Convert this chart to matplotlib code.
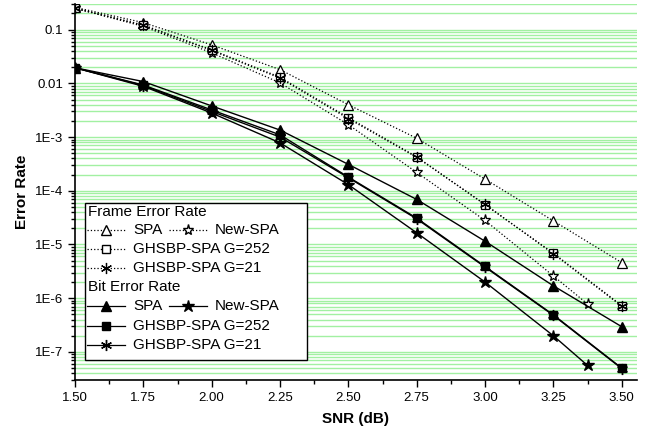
import matplotlib
matplotlib.use('Agg')
import matplotlib.pyplot as plt
from matplotlib.lines import Line2D
from matplotlib.patches import Rectangle
from matplotlib.ticker import FixedLocator, LogLocator, FuncFormatter, NullFormatter
import numpy as np

plt.rcParams['font.family'] = ['Liberation Sans', 'DejaVu Sans']

snr = [1.5, 1.75, 2.0, 2.25, 2.5, 2.75, 3.0, 3.25, 3.5]
snr_new = [1.5, 1.75, 2.0, 2.25, 2.5, 2.75, 3.0, 3.25, 3.375]

# frame error rate
fer_spa = [0.26, 0.135, 0.052, 0.018, 4.0e-3, 9.5e-4, 1.65e-4, 2.75e-5, 4.6e-6]
fer_new = [0.25, 0.115, 0.037, 0.0102, 1.7e-3, 2.2e-4, 2.8e-5, 2.6e-6, 7.8e-7]
fer_g252 = [0.25, 0.122, 0.042, 0.013, 2.3e-3, 4.3e-4, 5.5e-5, 6.9e-6, 7.3e-7]
fer_g21 = [0.25, 0.120, 0.041, 0.0125, 2.2e-3, 4.2e-4, 5.6e-5, 6.7e-6, 7.1e-7]

# bit error rate
ber_spa = [0.0195, 0.0108, 0.0038, 1.35e-3, 3.1e-4, 6.9e-5, 1.15e-5, 1.7e-6, 2.95e-7]
ber_new = [0.0195, 0.0088, 0.0028, 7.8e-4, 1.3e-4, 1.65e-5, 2.0e-6, 2.0e-7, 5.6e-8]
ber_g252 = [0.0195, 0.0093, 0.0032, 1.1e-3, 1.8e-4, 3.1e-5, 3.9e-6, 4.9e-7, 5.0e-8]
ber_g21 = [0.0195, 0.0091, 0.0030, 1.0e-3, 1.75e-4, 3.0e-5, 3.8e-6, 4.8e-7, 4.9e-8]

ytick_vals = [1e-7, 1e-6, 1e-5, 1e-4, 1e-3, 1e-2, 1e-1]
ytick_labels = ['1E-7', '1E-6', '1E-5', '1E-4', '1E-3', '0.01', '0.1']
xtick_vals = [1.5, 1.75, 2.0, 2.25, 2.5, 2.75, 3.0, 3.25, 3.5]

ast = (6, 2, 0)

fig = plt.figure(figsize=(6.54, 4.36), dpi=100)
ax = fig.add_axes([75 / 654, 1 - 380 / 436, 562 / 654, 376 / 436])

dot = dict(color='black', ls=':', lw=0.9, mec='black', ms=7, mew=0.9)
ax.plot(snr, fer_spa, marker='^', mfc='white', **dot)
ax.plot(snr_new, fer_new, marker='*', mfc='white', **dict(dot, ms=8))
ax.plot(snr, fer_g252, marker='s', mfc='white', **dict(dot, ms=6))
ax.plot(snr, fer_g21, marker=ast, **dict(dot, ms=8))

sol = dict(color='black', ls='-', lw=1.0, mec='black', mfc='black', ms=7)
ax.plot(snr, ber_spa, marker='^', **sol)
ax.plot(snr_new, ber_new, marker='*', **dict(sol, ms=9))
ax.plot(snr, ber_g252, marker='s', **dict(sol, ms=6))
ax.plot(snr, ber_g21, marker=ast, **dict(sol, ms=8))

ax.set_yscale('log')
ax.set_xlim(1.5, 3.556)
ax.set_ylim(3e-8, 0.3)

ax.xaxis.set_major_locator(FixedLocator(xtick_vals))
ax.xaxis.set_minor_locator(FixedLocator(np.arange(1.625, 3.55, 0.25)))
ax.set_xticklabels(['%.2f' % v for v in xtick_vals], fontsize=9)
ax.yaxis.set_major_locator(FixedLocator(ytick_vals))
ax.yaxis.set_minor_locator(LogLocator(base=10, subs=np.arange(2, 10)))
ax.yaxis.set_major_formatter(FuncFormatter(lambda v, p: ytick_labels[ytick_vals.index(min(ytick_vals, key=lambda t: abs(np.log10(t) - np.log10(v))))]))
ax.yaxis.set_minor_formatter(NullFormatter())
ax.tick_params(axis='both', which='major', direction='out', length=5, width=1, labelsize=9.5)
ax.tick_params(axis='both', which='minor', direction='out', length=3, width=1)

ax.yaxis.grid(True, which='both', color='#a2f0a2', lw=1.0)
ax.set_axisbelow(True)
for s in ['top', 'right']:
    ax.spines[s].set_visible(False)
ax.spines['left'].set_linewidth(1.2)
ax.spines['bottom'].set_linewidth(1.2)

ax.set_xlabel('SNR (dB)', fontsize=11, fontweight='bold', labelpad=6)
ax.set_ylabel('Error Rate', fontsize=11, fontweight='bold', labelpad=4)


# hand-made legend, positions given in figure pixels
def fx(px):
    return (px - 75) / 562


def fy(py):
    return (380 - py) / 376


ax.add_patch(Rectangle((fx(85), fy(360)), fx(307) - fx(85), fy(203) - fy(360),
                       transform=ax.transAxes, fc='white', ec='black', lw=1.0, zorder=5))


def entry(x0, py, label, style, **kw):
    ax.add_line(Line2D([fx(x0), fx(x0 + 38)], [fy(py), fy(py)], transform=ax.transAxes,
                       color='black', ls=style, lw=0.9, zorder=6))
    ax.add_line(Line2D([fx(x0 + 19)], [fy(py)], transform=ax.transAxes, ls='none',
                       zorder=7, mec='black', **kw))
    ax.text(fx(x0 + 46), fy(py), label, transform=ax.transAxes, fontsize=11,
            va='center', ha='left', zorder=7)


ax.text(fx(88), fy(212), 'Frame Error Rate', transform=ax.transAxes, fontsize=11,
        va='center', ha='left', zorder=7)
entry(87, 230, 'SPA', ':', marker='^', mfc='white', ms=7)
entry(169, 230, 'New-SPA', ':', marker='*', mfc='white', ms=8)
entry(87, 249, 'GHSBP-SPA G=252', ':', marker='s', mfc='white', ms=6)
entry(87, 268, 'GHSBP-SPA G=21', ':', marker=ast, ms=8, mew=0.9)
ax.text(fx(88), fy(287), 'Bit Error Rate', transform=ax.transAxes, fontsize=11,
        va='center', ha='left', zorder=7)
entry(87, 306, 'SPA', '-', marker='^', mfc='black', ms=7)
entry(169, 306, 'New-SPA', '-', marker='*', mfc='black', ms=9)
entry(87, 326, 'GHSBP-SPA G=252', '-', marker='s', mfc='black', ms=6)
entry(87, 345, 'GHSBP-SPA G=21', '-', marker=ast, ms=8, mew=1.0)

fig.savefig('out.png', dpi=100)
